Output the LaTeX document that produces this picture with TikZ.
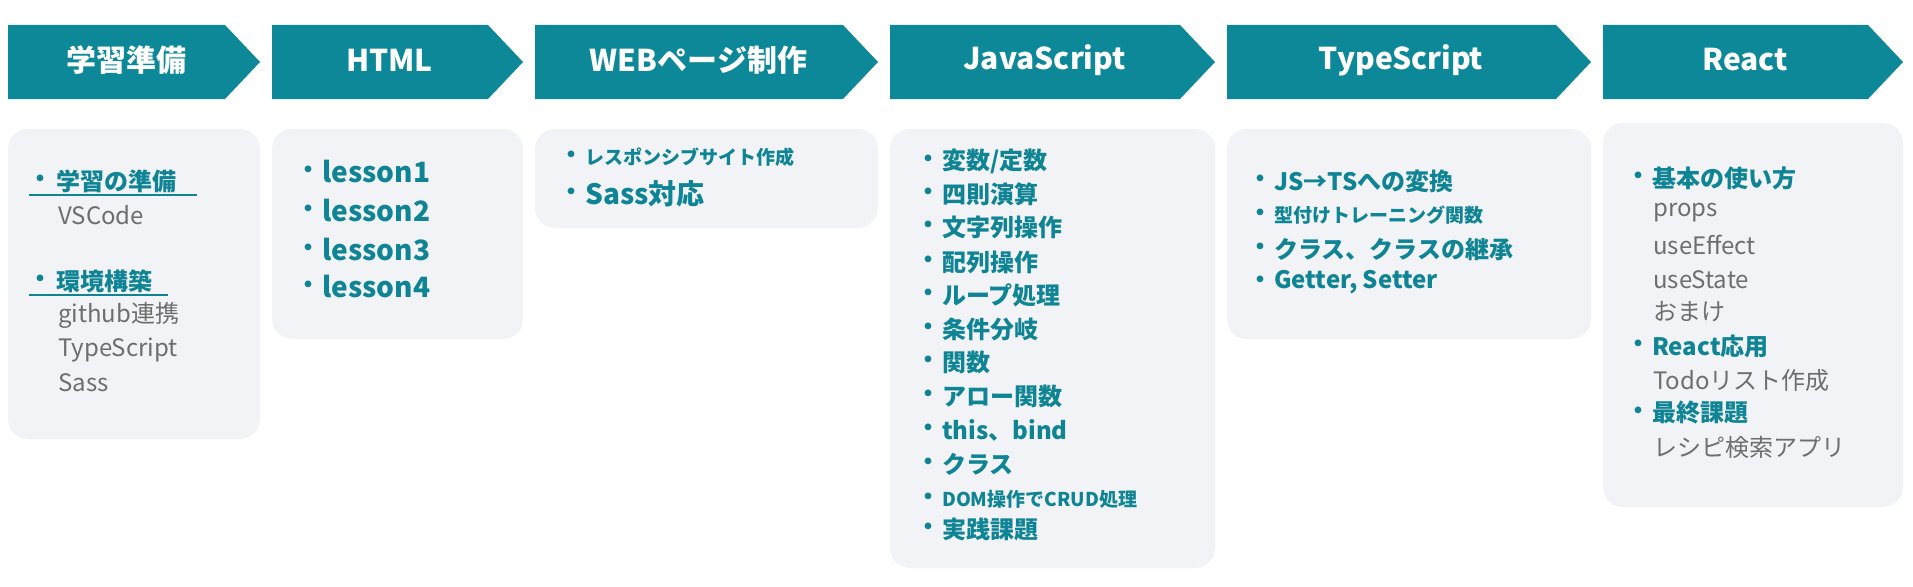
\documentclass[tikz,border=0pt]{standalone}
\usepackage{fontspec}
\setmainfont{Noto Sans CJK JP}
\definecolor{teal1}{HTML}{0C8898}
\definecolor{tealtxt}{HTML}{0E8494}
\definecolor{boxfill}{HTML}{F2F3F7}
\definecolor{graytxt}{HTML}{6E6E6E}
\tikzset{
  chev/.style={fill=teal1},
  hdr/.style={text=white,font=\fontsize{30}{30}\selectfont\bfseries,inner sep=0pt},
  card/.style={fill=boxfill,rounded corners=20pt},
  bul/.style={text=tealtxt,font=\fontsize{24}{24}\selectfont\bfseries,inner sep=0pt,anchor=center},
  itm/.style={text=tealtxt,font=\fontsize{24}{24}\selectfont\bfseries,inner sep=0pt,anchor=west},
  itms/.style={text=tealtxt,font=\fontsize{19}{19}\selectfont\bfseries,inner sep=0pt,anchor=west},
  itmb/.style={text=tealtxt,font=\fontsize{28}{28}\selectfont\bfseries,inner sep=0pt,anchor=west},
  sub/.style={text=graytxt,font=\fontsize{24}{24}\selectfont,inner sep=0pt,anchor=west},
}
% \bitem{name}{bulletx}{textx}{y}{style}{text}
\newcommand\bitem[6]{%
  \node[bul] (#1b) at (#2,#4) {・};
  \node[#5] (#1) at (#3,#4) {#6};}
\begin{document}
\begin{tikzpicture}[x=1pt,y=-1pt]
\useasboundingbox (0,0) rectangle (1913,586);
% chevrons
\foreach \n/\l/\r/\t in {c1/8/260/学習準備, c2/272/523/HTML/CSS, c3/535/878/WEBページ制作, c4/890/1215/JavaScript, c5/1227/1591/TypeScript, c6/1603/1903/React}{
  \fill[chev] (\l,25) -- (\r-35,25) -- (\r,62) -- (\r-35,99) -- (\l,99) -- cycle;
  \node[hdr] (\n) at ({(\l+\r)/2-8},60) {\t};
}
% cards
\fill[card] (8,129) rectangle (260,439);
\fill[card] (272,129) rectangle (523,339);
\fill[card] (535,129) rectangle (878,228);
\fill[card] (890,129) rectangle (1215,568);
\fill[card] (1227,129) rectangle (1591,339);
\fill[card] (1603,123) rectangle (1903,507);
% box1
\bitem{a1}{40}{56}{181}{itm}{学習の準備}
\draw[tealtxt,line width=1.2pt] (29,195) -- (197,195);
\node[sub] (a2) at (58,215) {VSCode};
\bitem{a3}{40}{56}{281}{itm}{環境構築}
\draw[tealtxt,line width=1.2pt] (29,295) -- (168,295);
\node[sub] (a4) at (58,315) {github連携};
\node[sub] (a5) at (58,350) {TypeScript};
\node[sub] (a6) at (58,383) {Sass};
% box2
\bitem{h1}{308}{322}{172}{itmb}{lesson1}
\bitem{h2}{308}{322}{211}{itmb}{lesson2}
\bitem{h3}{308}{322}{250}{itmb}{lesson3}
\bitem{h4}{308}{322}{287}{itmb}{lesson4}
% box3
\bitem{w1}{571}{585}{157}{itms}{レスポンシブサイト作成}
\bitem{w2}{571}{585}{194}{itmb}{Sass対応}
% box4
\bitem{j1}{928}{942}{161}{itm}{変数/定数}
\bitem{j2}{928}{942}{194}{itm}{四則演算}
\bitem{j3}{928}{942}{227}{itm}{文字列操作}
\bitem{j4}{928}{942}{262}{itm}{配列操作}
\bitem{j5}{928}{942}{295}{itm}{ループ処理}
\bitem{j6}{928}{942}{329}{itm}{条件分岐}
\bitem{j7}{928}{942}{362}{itm}{関数}
\bitem{j8}{928}{942}{396}{itm}{アロー関数}
\bitem{j9}{928}{942}{430}{itm}{this、bind}
\bitem{j10}{928}{942}{464}{itm}{クラス}
\bitem{j11}{928}{942}{499}{itms}{DOM操作でCRUD処理}
\bitem{j12}{928}{942}{529}{itm}{実践課題}
% box5
\bitem{t1}{1260}{1274}{181}{itm}{JS→TSへの変換}
\bitem{t2}{1260}{1274}{215}{itms}{型付けトレーニング関数}
\bitem{t3}{1260}{1274}{249}{itm}{クラス、クラスの継承}
\bitem{t4}{1260}{1274}{282}{itm}{Getter, Setter}
% box6
\bitem{r1}{1638}{1652}{178}{itm}{基本の使い方}
\node[sub] (r2) at (1653,213) {props};
\node[sub] (r3) at (1653,245) {useEffect};
\node[sub] (r4) at (1653,280) {useState};
\node[sub] (r5) at (1653,312) {おまけ};
\bitem{r6}{1638}{1652}{346}{itm}{React応用}
\node[sub] (r7) at (1653,380) {Todoリスト作成};
\bitem{r8}{1638}{1652}{413}{itm}{最終課題}
\node[sub] (r9) at (1653,447) {レシピ検索アプリ};
\end{tikzpicture}
\end{document}
